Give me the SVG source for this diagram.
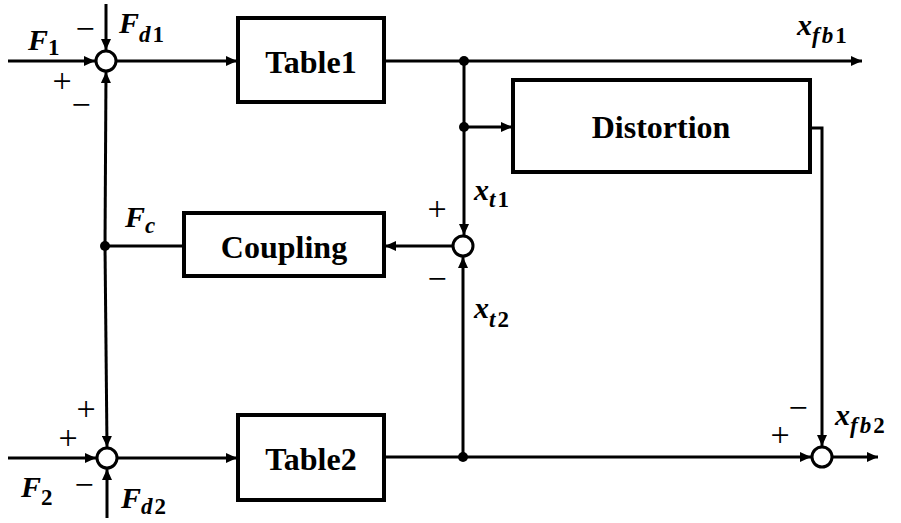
<svg xmlns="http://www.w3.org/2000/svg" width="901" height="523" viewBox="0 0 901 523">
<style>
.box{fill:#fff;stroke:#000;stroke-width:4}
.ln{fill:none;stroke:#000;stroke-width:3}
.arr{marker-end:url(#ah)}
.sum{fill:#fff;stroke:#000;stroke-width:3}
.dot{fill:#000}
.sb{font-size:23px;letter-spacing:2px}
.dg{font-style:normal}
</style>
<defs>
<marker id="ah" markerUnits="userSpaceOnUse" markerWidth="11" markerHeight="10" refX="11" refY="5" orient="auto">
<path d="M0,0 L11,5 L0,10 z" fill="#000"/>
</marker>
</defs>
<g id="connectors">
<line class="ln arr" x1="8" y1="61" x2="95" y2="61"/>
<line class="ln arr" x1="106" y1="4" x2="106" y2="50"/>
<line class="ln arr" x1="116" y1="61" x2="237" y2="61"/>
<line class="ln arr" x1="384" y1="61" x2="862" y2="61"/>
<line class="ln arr" x1="464" y1="61" x2="464" y2="235"/>
<line class="ln arr" x1="464" y1="127" x2="512" y2="127"/>
<polyline class="ln arr" points="810,128 822,128 822,446"/>
<line class="ln arr" x1="384" y1="457" x2="811" y2="457"/>
<line class="ln arr" x1="463" y1="457" x2="463" y2="257"/>
<line class="ln arr" x1="833" y1="457" x2="878" y2="457"/>
<line class="ln arr" x1="453" y1="246" x2="385" y2="246"/>
<line class="ln" x1="184" y1="246" x2="105" y2="246"/>
<line class="ln arr" x1="105" y1="246" x2="106" y2="72"/>
<line class="ln arr" x1="105" y1="246" x2="107" y2="447"/>
<line class="ln arr" x1="8" y1="458" x2="96" y2="458"/>
<line class="ln arr" x1="107" y1="518" x2="107" y2="469"/>
<line class="ln arr" x1="117" y1="458" x2="237" y2="458"/>
</g>
<g id="dots">
<circle class="dot" cx="464" cy="61" r="5"/>
<circle class="dot" cx="464" cy="127" r="5"/>
<circle class="dot" cx="463" cy="457" r="5"/>
<circle class="dot" cx="105" cy="246" r="5"/>
</g>
<g id="sum1"><circle class="sum" cx="106" cy="61" r="10"/></g>
<g id="sum2"><circle class="sum" cx="107" cy="458" r="10"/></g>
<g id="sum3"><circle class="sum" cx="463" cy="246" r="10"/></g>
<g id="sum4"><circle class="sum" cx="822" cy="457" r="10"/></g>
<g font-family="Liberation Serif" font-weight="bold" font-size="32" text-anchor="middle" fill="#000">
<g id="table1"><rect class="box" x="238" y="18" width="146" height="84"/><text x="311" y="73">Table1</text></g>
<g id="table2"><rect class="box" x="238" y="415" width="146" height="85"/><text x="311" y="470">Table2</text></g>
<g id="distortion"><rect class="box" x="513" y="80" width="297" height="92"/><text x="661" y="138">Distortion</text></g>
<g id="coupling"><rect class="box" x="184" y="213" width="200" height="63"/><text x="284" y="258">Coupling</text></g>
</g>
<g id="labels" font-family="Liberation Serif" font-weight="bold" font-style="italic" font-size="30" fill="#000">
<text x="28" y="50">F<tspan class="sb dg" dy="5">1</tspan></text>
<text x="119" y="33">F<tspan class="sb" dy="9">d</tspan><tspan class="sb dg">1</tspan></text>
<text x="125" y="227">F<tspan class="sb" dy="6">c</tspan></text>
<text x="21" y="497">F<tspan class="sb dg" dy="8">2</tspan></text>
<text x="121" y="508">F<tspan class="sb" dy="6">d</tspan><tspan class="sb dg">2</tspan></text>
<text x="797" y="35">x<tspan class="sb" dy="8">fb</tspan><tspan class="sb dg">1</tspan></text>
<text x="474" y="200">x<tspan class="sb" dy="7">t</tspan><tspan class="sb dg">1</tspan></text>
<text x="474" y="318">x<tspan class="sb" dy="9">t</tspan><tspan class="sb dg">2</tspan></text>
<text x="835" y="425">x<tspan class="sb" dy="8">fb</tspan><tspan class="sb dg">2</tspan></text>
</g>
<g id="signs" font-family="Liberation Serif" font-size="34" text-anchor="middle" fill="#000">
<text x="85" y="40">−</text>
<text x="62" y="92">+</text>
<text x="81" y="116">−</text>
<text x="437" y="220">+</text>
<text x="437" y="290">−</text>
<text x="86" y="420">+</text>
<text x="68" y="449">+</text>
<text x="84" y="496">−</text>
<text x="798" y="419">−</text>
<text x="780" y="446">+</text>
</g>
</svg>
